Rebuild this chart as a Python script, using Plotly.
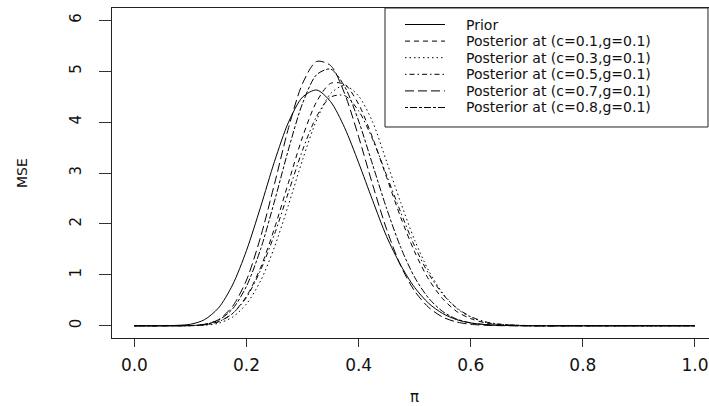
import plotly.graph_objects as go

# ---- data ----
pi_values = [0.0, 0.05, 0.1, 0.125, 0.15, 0.175, 0.2, 0.225, 0.25, 0.275, 0.3, 0.325,
             0.35, 0.375, 0.4, 0.425, 0.45, 0.475, 0.5, 0.525, 0.55, 0.575, 0.6, 0.625,
             0.65, 0.7, 0.8, 0.9, 1.0]

prior = [0.0, 0.0, 0.03, 0.12, 0.35, 0.80, 1.48, 2.33, 3.23, 4.00, 4.49, 4.63,
         4.40, 3.89, 3.20, 2.46, 1.75, 1.19, 0.75, 0.44, 0.24, 0.12, 0.055, 0.025,
         0.01, 0.0, 0.0, 0.0, 0.0]

post_c01 = [0.0, 0.0, 0.003, 0.02, 0.08, 0.24, 0.58, 1.14, 1.92, 2.82, 3.71, 4.40,
            4.76, 4.74, 4.35, 3.69, 2.91, 2.13, 1.45, 0.91, 0.53, 0.28, 0.14, 0.06,
            0.025, 0.003, 0.0, 0.0, 0.0]

post_c03 = [0.0, 0.0, 0.002, 0.01, 0.05, 0.17, 0.43, 0.88, 1.55, 2.38, 3.26, 4.04,
            4.56, 4.72, 4.51, 4.00, 3.22, 2.42, 1.68, 1.08, 0.64, 0.34, 0.17, 0.075,
            0.03, 0.004, 0.0, 0.0, 0.0]

post_c05 = [0.0, 0.0, 0.003, 0.02, 0.08, 0.24, 0.56, 1.09, 1.80, 2.63, 3.45, 4.11,
            4.49, 4.52, 4.22, 3.66, 2.95, 2.23, 1.56, 1.02, 0.62, 0.35, 0.18, 0.08,
            0.035, 0.005, 0.0, 0.0, 0.0]

post_c07 = [0.0, 0.0, 0.004, 0.03, 0.12, 0.38, 0.90, 1.74, 2.79, 3.89, 4.76, 5.19,
            5.11, 4.56, 3.71, 2.77, 1.89, 1.18, 0.68, 0.36, 0.17, 0.074, 0.029, 0.01,
            0.003, 0.0, 0.0, 0.0, 0.0]

post_c08 = [0.0, 0.0, 0.004, 0.025, 0.11, 0.33, 0.78, 1.50, 2.45, 3.47, 4.37, 4.93,
            5.04, 4.70, 4.02, 3.16, 2.30, 1.54, 0.95, 0.54, 0.28, 0.13, 0.057, 0.023,
            0.009, 0.0, 0.0, 0.0, 0.0]

series_names = ["Prior",
                "Posterior at (c=0.1,g=0.1)",
                "Posterior at (c=0.3,g=0.1)",
                "Posterior at (c=0.5,g=0.1)",
                "Posterior at (c=0.7,g=0.1)",
                "Posterior at (c=0.8,g=0.1)"]
series_values = [prior, post_c01, post_c03, post_c05, post_c07, post_c08]

x_tick_vals = [0.0, 0.2, 0.4, 0.6, 0.8, 1.0]
x_tick_text = ["0.0", "0.2", "0.4", "0.6", "0.8", "1.0"]
y_tick_vals = [0, 1, 2, 3, 4, 5, 6]
y_tick_text = ["0", "1", "2", "3", "4", "5", "6"]

# ---- styles ----
dash_styles = ["solid", "5px,4px", "1.5px,3px", "1.5px,3px,5px,3px", "9px,4px", "3px,2px,7px,2px"]
FONT = "DejaVu Sans"
INK = "#111111"

fig = go.Figure()
for name, ys, dash in zip(series_names, series_values, dash_styles):
    fig.add_trace(go.Scatter(
        x=pi_values, y=ys, mode="lines", name=name, showlegend=False,
        line=dict(color="black", width=1, dash=dash, shape="spline", smoothing=0.8),
        hoverinfo="skip"))

fig.update_layout(
    width=709, height=406,
    margin=dict(l=112, r=0, t=8, b=68, pad=0),
    paper_bgcolor="white", plot_bgcolor="white",
    showlegend=False,
    xaxis=dict(range=[-0.04, 1.025], tickvals=x_tick_vals, ticktext=x_tick_text,
               ticks="outside", ticklen=8, tickcolor="#333", tickwidth=1,
               showline=True, mirror=True, linecolor="#222", linewidth=1,
               showgrid=False, zeroline=False, ticklabelstandoff=4,
               tickfont=dict(family=FONT, size=17, color=INK)),
    yaxis=dict(range=[-0.24, 6.24], tickvals=y_tick_vals, ticktext=y_tick_text,
               tickangle=-90, ticks="outside", ticklen=12, tickcolor="#333", tickwidth=1,
               showline=True, mirror=False, linecolor="#222", linewidth=1,
               showgrid=False, zeroline=False, ticklabelstandoff=12,
               tickfont=dict(family=FONT, size=15, color=INK)),
)

# axis titles
fig.add_annotation(text="MSE", xref="paper", yref="paper", x=-0.1508, y=0.5,
                   textangle=-90, showarrow=False, xanchor="center", yanchor="middle",
                   font=dict(family=FONT, size=14, color=INK))
fig.add_annotation(text="π", xref="paper", yref="paper", x=0.507, y=-0.1788,
                   showarrow=False, xanchor="center", yanchor="middle",
                   font=dict(family=FONT, size=15, color=INK))

# legend drawn manually (R style)
leg_x0, leg_x1, leg_y0, leg_y1 = 0.4573, 0.9983, 0.6394, 1.0
fig.add_shape(type="rect", xref="paper", yref="paper", x0=leg_x0, x1=leg_x1,
              y0=leg_y0, y1=leg_y1, line=dict(color="#222", width=1),
              fillcolor="white", layer="above")
row_y = [0.9500, 0.8997, 0.8494, 0.7991, 0.7488, 0.6985]
for name, dash, ry in zip(series_names, dash_styles, row_y):
    fig.add_shape(type="line", xref="paper", yref="paper", x0=0.4908, x1=0.5578,
                  y0=ry, y1=ry, line=dict(color="black", width=1, dash=dash), layer="above")
    fig.add_annotation(text=name, xref="paper", yref="paper", x=0.5913, y=ry,
                       xanchor="left", yanchor="middle", showarrow=False, borderpad=0,
                       font=dict(family=FONT, size=14, color=INK))

fig.write_html("out.html")
